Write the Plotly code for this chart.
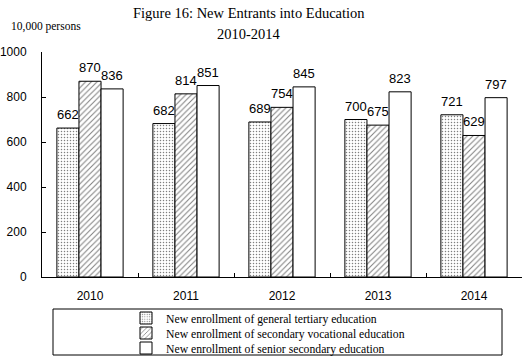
import plotly.graph_objects as go

years = ["2010", "2011", "2012", "2013", "2014"]
tertiary = [662, 682, 689, 700, 721]
vocational = [870, 814, 754, 675, 629]
senior = [836, 851, 845, 823, 797]
series_names = [
    "New enrollment of general tertiary education",
    "New enrollment of secondary vocational education",
    "New enrollment of senior secondary education",
]
y_ticks = [0, 200, 400, 600, 800, 1000]
title_lines = ["Figure 16: New Entrants into Education", "2010-2014"]
unit_label = "10,000 persons"

# plot area in pixels
L, R, T, B = 42, 522, 52, 277
W, H = R - L, B - T


def px(x):
    return (x - L) / W


def py(y):
    return (B - y) / H


patterns = [
    dict(shape=".", fgcolor="black", bgcolor="white", size=3, solidity=0.2),
    dict(shape="/", fgcolor="black", bgcolor="white", size=4, solidity=0.25),
    dict(shape="", bgcolor="white"),
]
legend_ids = ["legend", "legend2", "legend3"]
legend_rows = [318, 333, 348]
bar_offsets = [-22, 0, 22]

fig = go.Figure()
annotations = []
for name, vals, pat, lg, off in zip(series_names, [tertiary, vocational, senior],
                                    patterns, legend_ids, bar_offsets):
    fig.add_trace(go.Bar(
        x=years, y=vals, name=name, legend=lg,
        marker=dict(color="white", line=dict(color="black", width=1), pattern=pat),
    ))
    for idx, v in enumerate(vals):
        annotations.append(dict(
            text=str(v), x=idx, y=v, xref="x", yref="y", showarrow=False,
            xanchor="center", yanchor="bottom", xshift=off, yshift=4,
            font=dict(family="Liberation Sans, Arial", size=13, color="black"),
        ))

annotations += [
    dict(text=title_lines[0], x=px(249), y=py(13), xref="paper", yref="paper",
         xanchor="center", yanchor="middle", showarrow=False,
         font=dict(family="Liberation Serif, Times New Roman", size=14.5)),
    dict(text=title_lines[1], x=px(249), y=py(34), xref="paper", yref="paper",
         xanchor="center", yanchor="middle", showarrow=False,
         font=dict(family="Liberation Serif, Times New Roman", size=14.5)),
    dict(text=unit_label, x=px(9), y=py(27), xref="paper", yref="paper",
         xanchor="left", yanchor="middle", showarrow=False,
         font=dict(family="Liberation Serif, Times New Roman", size=11.5)),
]

legend_font = dict(family="Liberation Serif, Times New Roman", size=11.7, color="black")
legends = {}
for lg, row in zip(legend_ids, legend_rows):
    legends[lg] = dict(
        x=px(126), xanchor="left", y=py(row), yanchor="middle",
        bgcolor="rgba(0,0,0,0)", font=legend_font, itemwidth=30,
    )

fig.update_layout(
    width=530, height=363,
    margin=dict(l=L, r=530 - R, t=T, b=363 - B, autoexpand=False),
    paper_bgcolor="white", plot_bgcolor="white",
    barmode="group", bargap=0.31, bargroupgap=0,
    showlegend=True,
    font=dict(family="Liberation Sans, Arial", size=12, color="black"),
    xaxis=dict(
        type="category", categoryorder="array", categoryarray=years,
        range=[-0.5, len(years) - 0.5],
        showline=True, linecolor="black", linewidth=1,
        ticks="inside", ticklen=4, tickcolor="black", tickson="boundaries",
        ticklabelstandoff=8, showgrid=False,
        tickfont=dict(family="Liberation Sans, Arial", size=12),
    ),
    yaxis=dict(
        range=[0, 1000], tickvals=y_ticks,
        showline=True, linecolor="black", linewidth=1,
        ticks="inside", ticklen=4, tickcolor="black",
        ticklabelstandoff=12, showgrid=False, zeroline=False,
        tickfont=dict(family="Liberation Sans, Arial", size=12),
    ),
    shapes=[dict(type="rect", xref="paper", yref="paper",
                 x0=px(53), x1=px(502), y0=py(355), y1=py(309),
                 line=dict(color="black", width=1), fillcolor="rgba(0,0,0,0)")],
    annotations=annotations,
    **legends,
)

fig.write_html("out.html", config={"displayModeBar": False},
               post_script="document.body.style.margin='0';")
